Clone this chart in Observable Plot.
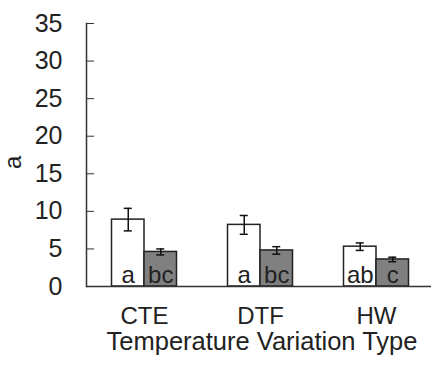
<!DOCTYPE html>
<html>
<head>
<meta charset="utf-8">
<script src="https://cdn.jsdelivr.net/npm/d3@7"></script>
<script src="https://cdn.jsdelivr.net/npm/@observablehq/plot@0.6"></script>
<style>
  html, body { margin: 0; padding: 0; background: #fff; }
  svg { display: block; }
</style>
</head>
<body>
<div id="chart"></div>
<script>
const types = ["CTE", "DTF", "HW"];
const whiteMean = [8.9, 8.2, 5.3];
const whiteErr = [1.5, 1.25, 0.5];
const grayMean = [4.6, 4.8, 3.6];
const grayErr = [0.4, 0.5, 0.3];
const whiteLetters = ["a", "a", "ab"];
const grayLetters = ["bc", "bc", "c"];
const yTicks = [0, 5, 10, 15, 20, 25, 30, 35];
const yLabel = ["a"];
const xLabel = ["Temperature Variation Type"];

const white = types.map((t, i) => ({type: t, v: whiteMean[i], e: whiteErr[i], l: whiteLetters[i]}));
const gray = types.map((t, i) => ({type: t, v: grayMean[i], e: grayErr[i], l: grayLetters[i]}));

const BAND = 116, HALF = 58, BW = 32.5, CAP = 4;
const cw = HALF - BW / 2; // white center from band left
const cg = HALF + BW / 2; // gray center
const font = "Liberation Sans, Arial, sans-serif";
const FS = 25;

const chart = Plot.plot({
  width: 431,
  height: 367,
  marginLeft: 86,
  marginRight: 0,
  marginTop: 23,
  marginBottom: 81,
  style: {fontFamily: font, fontSize: FS + "px", color: "#222", background: "#fff"},
  x: {domain: types, range: [86, 434], padding: 0, label: null},
  y: {domain: [0, 35], label: null},
  marks: [
    Plot.barY(white, {x: "type", y: "v", fill: "#fff", stroke: "#222", strokeWidth: 1.5, insetLeft: HALF - BW, insetRight: HALF}),
    Plot.barY(gray, {x: "type", y: "v", fill: "#808080", stroke: "#222", strokeWidth: 1.5, insetLeft: HALF, insetRight: HALF - BW}),
    Plot.ruleX(white, {x: "type", y1: d => d.v - d.e, y2: d => d.v + d.e, dx: -BW / 2, stroke: "#111", strokeWidth: 1.5}),
    Plot.ruleX(gray, {x: "type", y1: d => d.v - d.e, y2: d => d.v + d.e, dx: BW / 2, stroke: "#111", strokeWidth: 1.5}),
    Plot.tickY(white, {x: "type", y: d => d.v + d.e, insetLeft: cw - CAP, insetRight: BAND - cw - CAP, stroke: "#111", strokeWidth: 1.5}),
    Plot.tickY(white, {x: "type", y: d => d.v - d.e, insetLeft: cw - CAP, insetRight: BAND - cw - CAP, stroke: "#111", strokeWidth: 1.5}),
    Plot.tickY(gray, {x: "type", y: d => d.v + d.e, insetLeft: cg - CAP, insetRight: BAND - cg - CAP, stroke: "#111", strokeWidth: 1.5}),
    Plot.tickY(gray, {x: "type", y: d => d.v - d.e, insetLeft: cg - CAP, insetRight: BAND - cg - CAP, stroke: "#111", strokeWidth: 1.5}),
    Plot.text(white, {x: "type", y: 0, text: "l", dx: -BW / 2, dy: -4, lineAnchor: "bottom", fontSize: 24, fill: "#222"}),
    Plot.text(gray, {x: "type", y: 0, text: "l", dx: BW / 2, dy: -4, lineAnchor: "bottom", fontSize: 24, fill: "#222"}),
    Plot.ruleY([0], {stroke: "#333", strokeWidth: 1.5}),
    Plot.frame({anchor: "left", stroke: "#333", strokeWidth: 1.5}),
    Plot.axisY({ticks: yTicks, tickSize: 8, dx: 8, tickPadding: 24, stroke: "#333", fontSize: FS, label: null}),
    Plot.text(yLabel, {text: d => d, frameAnchor: "left", rotate: -90, dx: -73, dy: 14, fontSize: 24, fill: "#222"}),
    Plot.axisX({tickSize: 0, tickPadding: 20, fontSize: 24, label: null}),
    Plot.text(xLabel, {text: d => d, frameAnchor: "bottom", lineAnchor: "middle", dx: 3, dy: 55, fontSize: 25.5, fill: "#222"})
  ]
});
document.getElementById("chart").appendChild(chart);
</script>
</body>
</html>
